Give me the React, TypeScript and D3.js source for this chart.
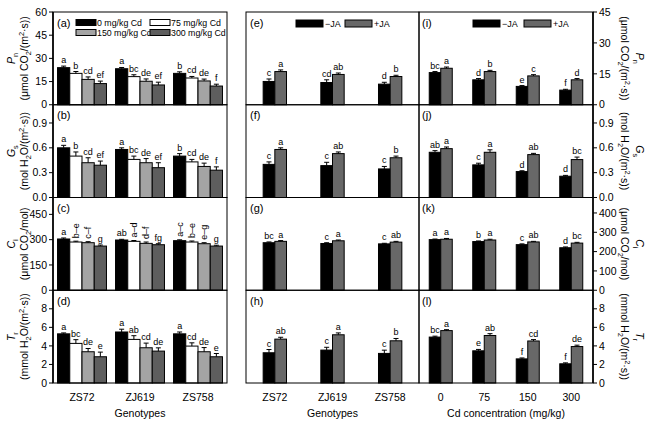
import React from 'react';
import * as d3 from 'd3';

// categories
const genotypes = ['ZS72', 'ZJ619', 'ZS758'];
const cdLevels = ['0', '75', '150', '300'];
const cdLegend = ['0 mg/kg Cd', '75 mg/kg Cd', '150 mg/kg Cd', '300 mg/kg Cd'];
const jaLegend = ['\u2212JA', '+JA'];
const panelTags = [['(a)', '(e)', '(i)'], ['(b)', '(f)', '(j)'], ['(c)', '(g)', '(k)'], ['(d)', '(h)', '(l)']];

// axis ticks (left: column 1, right: column 3)
const leftTicks = [[0, 15, 30, 45, 60], [0, 0.3, 0.6, 0.9], [0, 150, 300, 450], [0, 2, 4, 6, 8]];
const rightTicks = [[0, 15, 30, 45], [0, 0.3, 0.6, 0.9], [0, 100, 200, 300, 400], [0, 2, 4, 6, 8]];
const leftMax = [60, 1.12, 550, 10];
const rightMax = [45, 1.12, 480, 10];

// (a)-(d): genotype x Cd
const pnCd = [[24, 20.3, 16.4, 13.7], [23.3, 18.2, 15.2, 12.8], [20.3, 17.3, 15.4, 12.1]];
const pnCdErr = [[1, 1.2, 1.6, 1.6], [0.8, 1.2, 1.5, 1.8], [1, 1, 1.2, 1.2]];
const pnCdSig = [['a', 'b', 'cd', 'ef'], ['a', 'bc', 'de', 'ef'], ['b', 'cd', 'de', 'f']];
const gsCd = [[0.6, 0.5, 0.42, 0.39], [0.58, 0.46, 0.42, 0.36], [0.5, 0.43, 0.375, 0.33]];
const gsCdErr = [[0.03, 0.05, 0.06, 0.05], [0.02, 0.04, 0.05, 0.06], [0.03, 0.03, 0.04, 0.04]];
const gsCdSig = [['a', 'b', 'cd', 'ef'], ['a', 'bc', 'de', 'ef'], ['b', 'cd', 'de', 'f']];
const ciCd = [[304, 286, 282, 262], [298, 290, 278, 270], [294, 286, 276, 262]];
const ciCdErr = [[6, 5, 6, 6], [4, 5, 8, 6], [5, 6, 6, 5]];
const ciCdSig = [['a', 'b\u2013e', 'c\u2013f', 'g'], ['ab', 'a\u2013d', 'd\u2013f', 'fg'], ['a\u2013c', 'b\u2013e', 'e\u2013g', 'g']];
const trCd = [[5.3, 4.27, 3.37, 2.83], [5.5, 4.7, 3.8, 3.44], [5.3, 3.98, 3.37, 2.83]];
const trCdErr = [[0.1, 0.4, 0.35, 0.5], [0.3, 0.4, 0.5, 0.35], [0.2, 0.35, 0.45, 0.35]];
const trCdSig = [['a', 'bc', 'de', 'e'], ['a', 'ab', 'cd', 'de'], ['a', 'cd', 'de', 'e']];

// (e)-(h): genotype x JA
const pnGeno = [[11.3, 16.1], [10.8, 14.7], [10, 13.7]];
const pnGenoErr = [[1.2, 0.8], [1.3, 0.7], [0.9, 0.6]];
const pnGenoSig = [['c', 'a'], ['cd', 'ab'], ['d', 'b']];
const gsGeno = [[0.4, 0.58], [0.385, 0.53], [0.345, 0.48]];
const gsGenoErr = [[0.03, 0.02], [0.04, 0.02], [0.03, 0.02]];
const gsGenoSig = [['c', 'a'], ['c', 'ab'], ['c', 'b']];
const ciGeno = [[246, 253], [242, 256], [240, 249]];
const ciGenoErr = [[4, 4], [4, 4], [3, 4]];
const ciGenoSig = [['bc', 'a'], ['c', 'a'], ['c', 'ab']];
const trGeno = [[3.26, 4.73], [3.55, 5.2], [3.19, 4.55]];
const trGenoErr = [[0.35, 0.2], [0.3, 0.2], [0.35, 0.25]];
const trGenoSig = [['c', 'ab'], ['c', 'a'], ['c', 'b']];

// (i)-(l): Cd x JA
const pnJa = [[15.6, 17.7], [12.1, 16.1], [8.9, 14], [7.1, 12.1]];
const pnJaErr = [[0.5, 0.6], [0.6, 0.6], [0.4, 0.6], [0.4, 0.6]];
const pnJaSig = [['bc', 'a'], ['d', 'b'], ['e', 'c'], ['f', 'd']];
const gsJa = [[0.546, 0.59], [0.394, 0.546], [0.313, 0.518], [0.257, 0.458]];
const gsJaErr = [[0.02, 0.02], [0.02, 0.03], [0.01, 0.015], [0.01, 0.03]];
const gsJaSig = [['ab', 'a'], ['c', 'a'], ['d', 'ab'], ['d', 'bc']];
const ciJa = [[262, 264], [252, 260], [236, 250], [220, 244]];
const ciJaErr = [[3, 4], [3, 4], [4, 3], [4, 4]];
const ciJaSig = [['a', 'a'], ['b', 'a'], ['c', 'ab'], ['d', 'bc']];
const trJa = [[4.95, 5.65], [3.47, 5.12], [2.6, 4.53], [2.07, 3.93]];
const trJaErr = [[0.1, 0.1], [0.15, 0.2], [0.1, 0.15], [0.1, 0.15]];
const trJaSig = [['bc', 'a'], ['e', 'ab'], ['f', 'cd'], ['f', 'de']];

const cdColors = ['#000000', '#ffffff', '#a4a4a4', '#5e5e5e'];
const jaColors = ['#000000', '#686868'];

type Seg = { t: string; it?: boolean; sub?: boolean; sup?: boolean };
const yTitles: Seg[][][] = [
  [[{ t: 'P', it: true }, { t: 'n', sub: true }], [{ t: '(\u03bcmol CO' }, { t: '2', sub: true }, { t: '/(m' }, { t: '2', sup: true }, { t: '\u00b7s))' }]],
  [[{ t: 'G', it: true }, { t: 's', sub: true }], [{ t: '(mol H' }, { t: '2', sub: true }, { t: 'O/(m' }, { t: '2', sup: true }, { t: '\u00b7s))' }]],
  [[{ t: 'C', it: true }, { t: 'i', sub: true }], [{ t: '(\u03bcmol CO' }, { t: '2', sub: true }, { t: '/mol)' }]],
  [[{ t: 'T', it: true }, { t: 'r', sub: true }], [{ t: '(mmol H' }, { t: '2', sub: true }, { t: 'O/(m' }, { t: '2', sup: true }, { t: '\u00b7s))' }]],
];

const W = 652;
const H = 431;
const FONT = 'Liberation Sans, Arial, Helvetica, sans-serif';
const TOP = 12;
const BOTTOM = 383;
const ROW_H = (BOTTOM - TOP) / 4;
const cols = [[53, 227], [246, 419], [419, 593]];

function rich(segs: Seg[], size: number) {
  let shift = 0;
  return segs.map((s, i) => {
    const target = s.sub ? size * 0.3 : s.sup ? -size * 0.4 : 0;
    const dy = target - shift;
    shift = target;
    return (
      <tspan key={i} dy={dy} fontSize={s.sub || s.sup ? size * 0.7 : size} fontStyle={s.it ? 'italic' : undefined}>
        {s.t}
      </tspan>
    );
  });
}

type PanelProps = {
  x0: number; x1: number; y0: number; y1: number; max: number;
  groups: string[]; series: string[]; colors: string[]; padOuter: number;
  vals: number[][]; errs: number[][]; sig: string[][];
};

function Bars({ x0, x1, y0, y1, max, groups, series, colors, padOuter, vals, errs, sig }: PanelProps) {
  const x = d3.scaleBand().domain(groups).range([x0, x1]).padding(0);
  const xi = d3.scaleBand().domain(series).range([0, x.bandwidth()]).paddingInner(0).paddingOuter(padOuter);
  const y = d3.scaleLinear().domain([0, max]).range([y1, y0]);
  const bw = xi.bandwidth();
  return (
    <g>
      {groups.map((gname, gi) =>
        series.map((sname, si) => {
          const bx = (x(gname) as number) + (xi(sname) as number);
          const v = vals[gi][si];
          const et = y(v + errs[gi][si]);
          const cx = bx + bw / 2;
          const lab = sig[gi][si];
          const rot = lab.length > 2;
          return (
            <g key={gname + sname}>
              <rect x={bx} y={y(v)} width={bw} height={y1 - y(v)} fill={colors[si]} stroke="#000" strokeWidth={1} />
              <line x1={cx} x2={cx} y1={y(v)} y2={et} stroke="#000" strokeWidth={1} />
              <line x1={cx - 2.5} x2={cx + 2.5} y1={et} y2={et} stroke="#000" strokeWidth={1} />
              {rot ? (
                <text x={cx} y={et - 3} transform={`rotate(-90,${cx},${et - 3})`} fontSize={9} dominantBaseline="central" textAnchor="start">
                  {lab}
                </text>
              ) : (
                <text x={cx} y={et - 3} fontSize={9} textAnchor="middle">
                  {lab}
                </text>
              )}
            </g>
          );
        })
      )}
    </g>
  );
}

export default function App() {
  const rowsData = [
    [[pnCd, pnCdErr, pnCdSig], [pnGeno, pnGenoErr, pnGenoSig], [pnJa, pnJaErr, pnJaSig]],
    [[gsCd, gsCdErr, gsCdSig], [gsGeno, gsGenoErr, gsGenoSig], [gsJa, gsJaErr, gsJaSig]],
    [[ciCd, ciCdErr, ciCdSig], [ciGeno, ciGenoErr, ciGenoSig], [ciJa, ciJaErr, ciJaSig]],
    [[trCd, trCdErr, trCdSig], [trGeno, trGenoErr, trGenoSig], [trJa, trJaErr, trJaSig]],
  ] as any;

  const xGeno1 = d3.scaleBand().domain(genotypes).range(cols[0] as [number, number]);
  const xGeno2 = d3.scaleBand().domain(genotypes).range(cols[1] as [number, number]);
  const xCd = d3.scaleBand().domain(cdLevels).range(cols[2] as [number, number]);

  return (
    <svg width={W} height={H} style={{ position: 'absolute', left: 0, top: 0, background: '#fff' }} fontFamily={FONT}>
      <rect width={W} height={H} fill="#fff" />
      {[0, 1, 2, 3].map((r) => {
        const y0 = TOP + r * ROW_H;
        const y1 = y0 + ROW_H;
        const yl = d3.scaleLinear().domain([0, leftMax[r]]).range([y1, y0]);
        const yr = d3.scaleLinear().domain([0, rightMax[r]]).range([y1, y0]);
        const fmt = r === 1 ? d3.format('.1f') : d3.format('d');
        const cy = (y0 + y1) / 2;
        return (
          <g key={r}>
            <Bars x0={cols[0][0]} x1={cols[0][1]} y0={y0} y1={y1} max={leftMax[r]} groups={genotypes} series={cdLevels}
              colors={cdColors} padOuter={0.37} vals={rowsData[r][0][0]} errs={rowsData[r][0][1]} sig={rowsData[r][0][2]} />
            <Bars x0={cols[1][0]} x1={cols[1][1]} y0={y0} y1={y1} max={rightMax[r]} groups={genotypes} series={jaLegend}
              colors={jaColors} padOuter={1.47} vals={rowsData[r][1][0]} errs={rowsData[r][1][1]} sig={rowsData[r][1][2]} />
            <Bars x0={cols[2][0]} x1={cols[2][1]} y0={y0} y1={y1} max={rightMax[r]} groups={cdLevels} series={jaLegend}
              colors={jaColors} padOuter={0.89} vals={rowsData[r][2][0]} errs={rowsData[r][2][1]} sig={rowsData[r][2][2]} />
            {/* frames */}
            {cols.map((c, ci) => (
              <rect key={ci} x={c[0]} y={y0} width={c[1] - c[0]} height={ROW_H} fill="none" stroke="#000" strokeWidth={1} />
            ))}
            <line x1={cols[0][0]} x2={cols[0][0]} y1={y0} y2={y1} stroke="#000" strokeWidth={1.6} />
            <line x1={cols[2][1]} x2={cols[2][1]} y1={y0} y2={y1} stroke="#000" strokeWidth={1.6} />
            {/* left axis */}
            {leftTicks[r].map((t) => (
              <g key={'l' + t}>
                <line x1={cols[0][0] - 4} x2={cols[0][0]} y1={yl(t)} y2={yl(t)} stroke="#000" />
                <text x={cols[0][0] - 6} y={yl(t)} dy="0.35em" textAnchor="end" fontSize={10.5}>{fmt(t)}</text>
              </g>
            ))}
            {/* right axis */}
            {rightTicks[r].map((t) => (
              <g key={'r' + t}>
                <line x1={cols[2][1]} x2={cols[2][1] + 4} y1={yr(t)} y2={yr(t)} stroke="#000" />
                <text x={cols[2][1] + 6} y={yr(t)} dy="0.35em" textAnchor="start" fontSize={10.5}>{fmt(t)}</text>
              </g>
            ))}
            {/* y titles */}
            <text x={15} y={cy} transform={`rotate(-90,15,${cy})`} textAnchor="middle" fontSize={10.5}>{rich(yTitles[r][0], 10.5)}</text>
            <text x={28} y={cy} transform={`rotate(-90,28,${cy})`} textAnchor="middle" fontSize={10.5}>{rich(yTitles[r][1], 10.5)}</text>
            <text x={636} y={cy} transform={`rotate(90,636,${cy})`} textAnchor="middle" fontSize={10.5}>{rich(yTitles[r][0], 10.5)}</text>
            <text x={621} y={cy} transform={`rotate(90,621,${cy})`} textAnchor="middle" fontSize={10.5}>{rich(yTitles[r][1], 10.5)}</text>
            {/* panel tags */}
            {cols.map((c, ci) => (
              <text key={'t' + ci} x={c[0] + (ci === 2 ? 3 : 4)} y={y0 + 14.5} fontSize={11}>{panelTags[r][ci]}</text>
            ))}
          </g>
        );
      })}
      {/* Cd legend */}
      {cdLegend.map((l, i) => {
        const lx = i % 2 === 0 ? 76 : 150;
        const ly = i < 2 ? 19.5 : 29.5;
        return (
          <g key={l}>
            <rect x={lx} y={ly} width={20} height={6} fill={cdColors[i]} stroke="#000" />
            <text x={lx + 21} y={ly + 3} dy="0.35em" fontSize={8.8}>{l}</text>
          </g>
        );
      })}
      {/* JA legends */}
      {[[296, 345], [473, 524]].map((pos, k) =>
        jaLegend.map((l, i) => (
          <g key={k + l}>
            <rect x={pos[i]} y={20} width={27} height={7} fill={jaColors[i]} stroke="#000" />
            <text x={pos[i] + 29} y={23.5} dy="0.35em" fontSize={9}>{l}</text>
          </g>
        ))
      )}
      {/* x tick labels */}
      {genotypes.map((g) => (
        <g key={g}>
          <text x={(xGeno1(g) as number) + xGeno1.bandwidth() / 2} y={401} textAnchor="middle" fontSize={10.5}>{g}</text>
          <text x={(xGeno2(g) as number) + xGeno2.bandwidth() / 2} y={401} textAnchor="middle" fontSize={10.5}>{g}</text>
        </g>
      ))}
      {cdLevels.map((c) => (
        <text key={c} x={(xCd(c) as number) + xCd.bandwidth() / 2} y={401} textAnchor="middle" fontSize={10.5}>{c}</text>
      ))}
      <text x={(cols[0][0] + cols[0][1]) / 2} y={417} textAnchor="middle" fontSize={10.5}>Genotypes</text>
      <text x={(cols[1][0] + cols[1][1]) / 2} y={417} textAnchor="middle" fontSize={10.5}>Genotypes</text>
      <text x={(cols[2][0] + cols[2][1]) / 2} y={417} textAnchor="middle" fontSize={10.5}>Cd concentration (mg/kg)</text>
    </svg>
  );
}
